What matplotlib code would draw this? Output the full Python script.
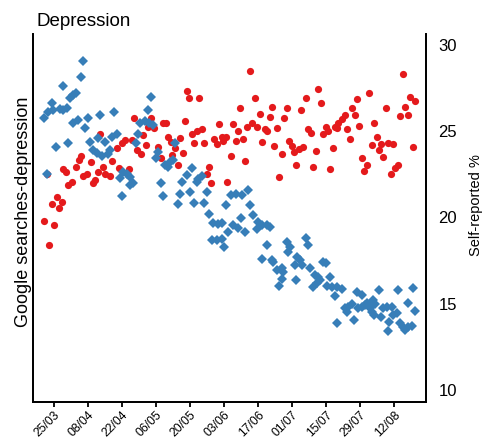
import datetime as dt
import matplotlib
matplotlib.use("Agg")
import matplotlib.pyplot as plt
import matplotlib.dates as mdates

plt.rcParams['font.family'] = ['Liberation Sans', 'DejaVu Sans']

# ---- data (day offsets from 25/03) ----
base_date = dt.date(2020, 3, 25)

red_day = [-4.1, -3.0, -2.1, -0.9, 0.0, 1.1, 2.1, 3.2, 3.8, 4.8, 5.9, 7.3, 8.9, 10.3, 11.0,
           12.1, 13.7, 15.1, 15.9, 16.9, 18.2, 18.9, 20.1, 21.0, 23.1, 24.0, 26.1, 26.9, 27.9,
           29.2, 31.0, 32.0, 32.9, 34.1, 35.8, 36.8, 37.9, 38.8, 39.9, 41.2, 42.9, 43.9, 44.9,
           46.1, 46.8, 48.1, 48.7, 49.8, 50.9, 51.9, 53.0, 53.8, 54.9, 55.7, 56.9, 57.8, 58.8,
           59.8, 60.8, 61.8, 62.9, 63.8, 64.6, 65.9, 67.0, 67.8, 69.1, 69.5, 70.8, 71.4, 72.9,
           73.8, 74.8, 75.9, 76.7, 77.9, 78.8, 79.6, 80.7, 81.7, 82.8, 83.7, 84.8, 85.8, 86.8,
           87.8, 88.9, 89.8, 90.7, 91.7, 92.6, 93.8, 94.8, 95.8, 96.8, 97.9, 98.8, 99.8, 100.9,
           101.7, 102.7, 103.8, 104.7, 105.8, 106.8, 107.8, 108.8, 109.8, 110.9, 112.0, 112.7,
           113.6, 114.8, 115.7, 116.4, 117.1, 118.5, 119.8, 120.8, 121.9, 122.7, 123.8, 124.8,
           125.7, 126.7, 127.8, 128.8, 129.7, 130.8, 131.8, 132.9, 133.8, 134.6, 135.6, 136.7,
           137.7, 138.8, 139.7, 140.5, 141.8, 142.6, 143.7, 144.5, 145.6, 146.6, 147.7, 148.6]
red_val = [19.78, 22.52, 18.39, 20.78, 19.55, 21.21, 20.53, 20.88, 22.79, 22.66, 21.88, 22.08,
           22.95, 23.33, 23.57, 22.42, 22.52, 23.24, 21.98, 22.17, 22.66, 24.82, 22.95, 22.52,
           22.41, 23.28, 24.01, 22.89, 24.30, 24.49, 22.79, 24.49, 25.75, 23.91, 23.68, 24.78,
           24.20, 25.26, 25.77, 25.17, 24.10, 23.43, 25.46, 25.46, 24.68, 24.39, 23.62, 24.01,
           23.04, 24.63, 23.76, 25.61, 27.33, 26.95, 24.82, 24.30, 25.03, 26.95, 25.11, 24.34,
           22.52, 22.95, 21.98, 24.53, 24.24, 25.40, 24.65, 24.45, 24.68, 22.08, 23.58, 25.40,
           24.43, 25.03, 26.37, 24.53, 23.26, 25.26, 28.51, 25.46, 26.91, 25.23, 25.98, 24.36,
           25.15, 25.03, 25.80, 26.38, 24.16, 25.17, 22.36, 23.70, 25.77, 26.37, 24.45, 24.15,
           23.80, 23.04, 23.95, 26.21, 24.07, 26.95, 25.15, 24.88, 22.95, 23.84, 27.43, 26.66,
           24.82, 25.23, 25.01, 22.79, 24.01, 25.26, 25.21, 25.50, 25.71, 25.94, 25.15, 24.57,
           26.35, 25.93, 26.85, 25.30, 23.45, 22.71, 23.04, 27.23, 24.19, 25.50, 24.65, 23.90,
           24.26, 23.51, 26.37, 24.34, 22.54, 24.24, 22.89, 23.04, 25.90, 28.30, 26.42, 25.94,
           27.00, 24.10, 26.75]

blue_day = [-4.1, -3.0, -2.3, -0.9, -0.3, 0.8, 2.5, 3.6, 3.8, 5.2, 5.9, 6.6, 7.7, 7.9, 9.1,
            10.0, 11.0, 11.8, 12.9, 13.9, 14.8, 16.2, 17.6, 18.2, 18.9, 19.6, 21.0, 22.4, 23.1,
            23.8, 24.8, 26.1, 27.2, 27.9, 28.5, 29.9, 31.3, 31.3, 32.7, 33.8, 34.7, 35.4, 37.5,
            38.8, 39.2, 39.8, 40.9, 42.0, 42.9, 43.9, 44.8, 45.7, 46.8, 47.8, 48.9, 49.8, 50.9,
            51.9, 52.9, 54.6, 56.0, 56.7, 57.8, 58.8, 59.4, 60.8, 61.6, 62.9, 63.8, 64.9, 65.6,
            67.0, 67.7, 69.1, 69.1, 69.9, 70.8, 71.8, 72.7, 73.8, 74.9, 75.9, 76.9, 77.6, 78.6,
            79.9, 80.7, 82.1, 83.5, 84.1, 85.5, 85.5, 87.6, 87.8, 88.9, 89.6, 90.3, 91.7, 92.8,
            93.8, 93.8, 94.4, 95.8, 96.5, 97.2, 99.2, 99.6, 99.9, 101.3, 102.0, 103.8, 104.7,
            105.4, 106.8, 107.5, 108.2, 108.8, 109.5, 110.9, 112.0, 112.3, 113.6, 114.3, 115.7,
            116.4, 116.7, 118.5, 119.8, 120.5, 121.2, 122.6, 123.7, 124.6, 125.1, 126.7, 126.7,
            128.1, 128.8, 130.1, 130.8, 131.5, 131.8, 132.2, 133.9, 134.5, 135.6, 137.0, 137.6,
            138.1, 139.1, 139.7, 141.1, 141.8, 142.5, 143.8, 144.5, 145.6, 145.9, 147.3, 147.7,
            148.6]
blue_val = [25.75, 22.55, 26.12, 26.66, 26.23, 24.07, 26.31, 26.23, 27.64, 26.33, 24.30, 26.91,
            27.10, 25.50, 27.23, 25.65, 28.13, 29.09, 25.17, 25.79, 24.39, 23.91, 23.72, 24.59,
            25.92, 23.57, 24.39, 23.68, 23.91, 24.65, 26.10, 24.82, 22.27, 21.26, 22.62, 22.52,
            22.37, 21.88, 22.02, 24.34, 24.82, 25.46, 25.62, 26.23, 25.50, 26.96, 25.39, 23.43,
            23.81, 21.98, 21.26, 23.04, 22.91, 23.24, 23.33, 24.30, 20.78, 21.36, 22.03, 22.46,
            21.45, 22.85, 20.82, 22.08, 22.21, 22.41, 20.82, 21.45, 20.19, 18.70, 19.70, 18.70,
            19.62, 18.78, 19.66, 18.26, 20.70, 19.18, 21.33, 19.57, 21.38, 19.37, 19.95, 21.30,
            19.18, 21.59, 20.72, 20.15, 19.32, 19.76, 19.57, 17.58, 19.57, 18.41, 19.43, 17.54,
            17.44, 16.96, 16.03, 17.06, 16.44, 16.86, 18.60, 18.02, 18.31, 17.25, 16.38, 17.73,
            17.54, 17.25, 18.79, 18.41, 17.06, 15.95, 16.67, 16.19, 16.57, 16.38, 17.44, 17.35,
            16.03, 16.57, 15.99, 15.45, 15.99, 13.87, 15.84, 14.74, 14.54, 14.83, 14.99, 14.06,
            15.70, 14.74, 15.51, 14.83, 14.93, 15.03, 14.74, 14.54, 15.22, 14.35, 14.99, 15.80,
            14.25, 14.74, 14.83, 13.44, 13.96, 14.83, 14.35, 14.45, 15.80, 13.87, 13.67, 13.48,
            15.03, 13.67, 13.73, 15.90, 14.60]

tick_days = [0, 14, 28, 42, 56, 70, 84, 98, 112, 126, 140]
tick_labels = ['25/03', '08/04', '22/04', '06/05', '20/05', '03/06', '17/06',
               '01/07', '15/07', '29/07', '12/08']
right_ticks = [10, 15, 20, 25, 30]

RED = '#E41A1C'
BLUE = '#377EB8'

b0 = mdates.date2num(base_date)
def to_num(days):
    return [b0 + d for d in days]

fig = plt.figure(figsize=(4.84, 4.40), dpi=100)
ax = fig.add_axes([33/484, 38/440, 393/484, 368/440])
ax2 = ax.twinx()

ylim = (9.30, 30.64)
ax2.plot(to_num(red_day), red_val, 'o', color=RED, markersize=5.2, markeredgewidth=0)
ax.plot(to_num(blue_day), blue_val, 'D', color=BLUE, markersize=5.1, markeredgewidth=0)
ax.set_zorder(ax2.get_zorder() + 1)
ax.patch.set_visible(False)

for a in (ax, ax2):
    a.set_ylim(*ylim)
    a.set_xlim(b0 - 8.65, b0 + 153.2)
    a.spines['top'].set_visible(False)
    for s in a.spines.values():
        s.set_linewidth(1.3)

ax.set_yticks([])
ax2.set_yticks(right_ticks)
ax2.tick_params(axis='y', length=0, pad=9, labelsize=12)

fig.text(23.5/484, 1 - 212/440, 'Google searches-depression', fontsize=13,
         rotation=90, ha='center', va='center')
fig.text(476/484, 1 - 205/440, 'Self-reported %', fontsize=10.5,
         rotation=90, ha='center', va='center')

ax.set_xticks(to_num(tick_days))
ax.set_xticklabels(tick_labels, rotation=45, ha='right', rotation_mode='anchor', fontsize=8.8)
ax.tick_params(axis='x', length=3.5, width=1.3, pad=1.5)

fig.text(37/484, 1 - 26/440, 'Depression', fontsize=13.5, ha='left', va='baseline')

fig.savefig('out.png', dpi=100)
